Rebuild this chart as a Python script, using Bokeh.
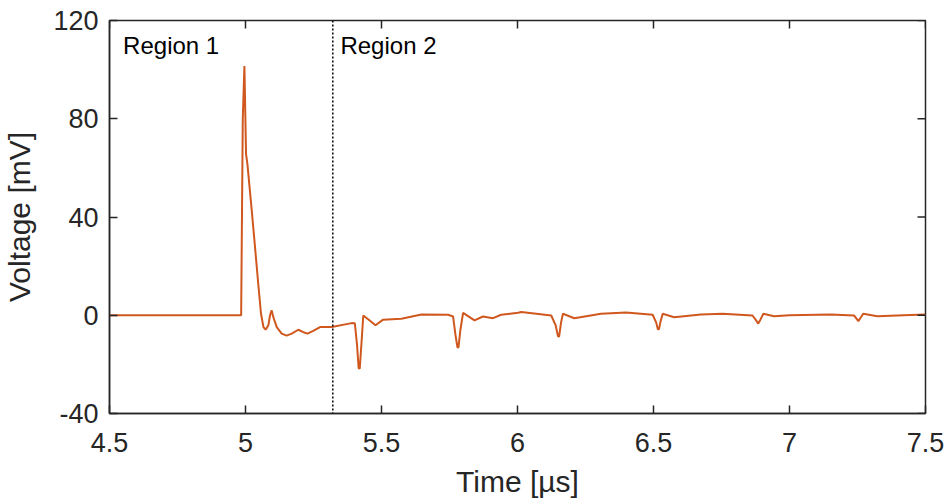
import math
from bokeh.plotting import figure
from bokeh.models import Span, Range1d, Label, FixedTicker
from bokeh.embed import file_html
from bokeh.resources import INLINE

# ---- data ----
time_us = [4.500, 4.700, 4.900, 4.984, 4.990, 4.996, 5.002, 5.007, 5.023, 5.035, 5.048,
           5.057, 5.066, 5.074, 5.084, 5.090, 5.096, 5.104, 5.115, 5.133, 5.151, 5.170,
           5.194, 5.213, 5.228, 5.249, 5.274, 5.317, 5.390, 5.402, 5.410, 5.416, 5.420,
           5.426, 5.433, 5.452, 5.478, 5.506, 5.573, 5.647, 5.745, 5.763, 5.772, 5.779,
           5.783, 5.790, 5.800, 5.842, 5.873, 5.910, 5.940, 6.002, 6.014, 6.124, 6.140,
           6.149, 6.153, 6.160, 6.167, 6.209, 6.307, 6.399, 6.497, 6.510, 6.516, 6.520,
           6.526, 6.534, 6.576, 6.674, 6.754, 6.864, 6.878, 6.885, 6.892, 6.904, 6.943,
           7.000, 7.151, 7.237, 7.248, 7.253, 7.259, 7.271, 7.323, 7.420, 7.500]
voltage_mv = [0.0, 0.0, 0.0, 0.0, 80.0, 101.5, 65.6, 61.6, 42.6, 27.7, 11.4,
              0.6, -4.8, -5.9, -4.1, -0.1, 2.0, -1.4, -4.8, -7.5, -8.3, -7.5,
              -5.9, -6.9, -7.5, -6.4, -4.8, -4.8, -3.2, -3.3, -12.0, -21.5, -21.8,
              -12.0, -0.1, -1.7, -4.1, -1.8, -1.4, 0.3, 0.2, -0.5, -8.0, -13.0,
              -13.1, -6.0, 1.0, -2.1, -0.5, -1.2, 0.2, 1.0, 1.3, -0.1, -4.0,
              -8.6, -8.7, -3.0, 0.6, -1.2, 0.6, 1.1, 0.2, -3.0, -5.7, -5.7,
              -2.5, 0.6, -0.8, 0.3, 0.6, -0.1, -2.2, -3.4, -2.0, 0.6, -0.4,
              0.0, 0.3, -0.1, -1.6, -2.4, -1.4, 0.6, -0.4, 0.0, 0.3]

x_ticks = [4.5, 5.0, 5.5, 6.0, 6.5, 7.0, 7.5]
x_tick_labels = ["4.5", "5", "5.5", "6", "6.5", "7", "7.5"]
y_ticks = [-40, 0, 40, 80, 120]
y_tick_labels = ["-40", "0", "40", "80", "120"]
region_boundary_us = 5.321
region_names = ["Region 1", "Region 2"]

FONT = "Liberation Sans"
AX = "#262626"
X0, X1, Y0, Y1 = 4.5, 7.5, -40, 120

p = figure(width=946, height=502,
           x_range=Range1d(X0, X1), y_range=Range1d(Y0, Y1),
           output_backend="svg", toolbar_location=None,
           min_border_left=108, min_border_top=20, min_border_right=21,
           min_border_bottom=89)
p.background_fill_color = "white"
p.border_fill_color = "white"
p.grid.visible = False
p.outline_line_color = AX
p.outline_line_width = 1.5

p.line(time_us, voltage_mv, line_color="#D0581F", line_width=2)

p.add_layout(Span(location=region_boundary_us, dimension="height",
                  line_color="black", line_dash="2 2", line_width=1.5))

p.add_layout(Label(x=4.550, y=110, text=region_names[0], text_font=FONT,
                   text_font_size="24px", text_color="black", text_baseline="alphabetic"))
p.add_layout(Label(x=5.349, y=110, text=region_names[1], text_font=FONT,
                   text_font_size="24px", text_color="black", text_baseline="alphabetic"))

# mirrored inward ticks on top and right (dash markers clipped by the frame)
p.scatter(x=x_ticks, y=[Y1] * len(x_ticks), marker="dash", size=16,
          angle=math.pi / 2, line_color=AX, line_width=1.5)
p.scatter(x=[X1] * len(y_ticks), y=y_ticks, marker="dash", size=16,
          line_color=AX, line_width=1.5)

def style(ax, ticks, labels, standoff):
    ax.ticker = FixedTicker(ticks=ticks)
    ax.major_label_overrides = {t: l for t, l in zip(ticks, labels)}
    ax.major_tick_in = 8
    ax.major_tick_out = 0
    ax.minor_tick_line_color = None
    ax.axis_line_color = AX
    ax.axis_line_width = 1.5
    ax.major_tick_line_color = AX
    ax.major_tick_line_width = 1.5
    ax.major_label_text_font = FONT
    ax.major_label_text_color = AX
    ax.major_label_text_font_size = "27px"
    ax.major_label_standoff = standoff
    ax.axis_label_text_font = FONT
    ax.axis_label_text_font_size = "30px"
    ax.axis_label_text_font_style = "normal"
    ax.axis_label_text_color = AX

style(p.xaxis[0], x_ticks, x_tick_labels, 19)
style(p.yaxis[0], y_ticks, y_tick_labels, 11)
p.xaxis[0].axis_label = "Time [µs]"
p.yaxis[0].axis_label = "Voltage [mV]"
p.xaxis[0].axis_label_standoff = 10
p.yaxis[0].axis_label_standoff = 14

open("out.html", "w").write(file_html(p, INLINE))
